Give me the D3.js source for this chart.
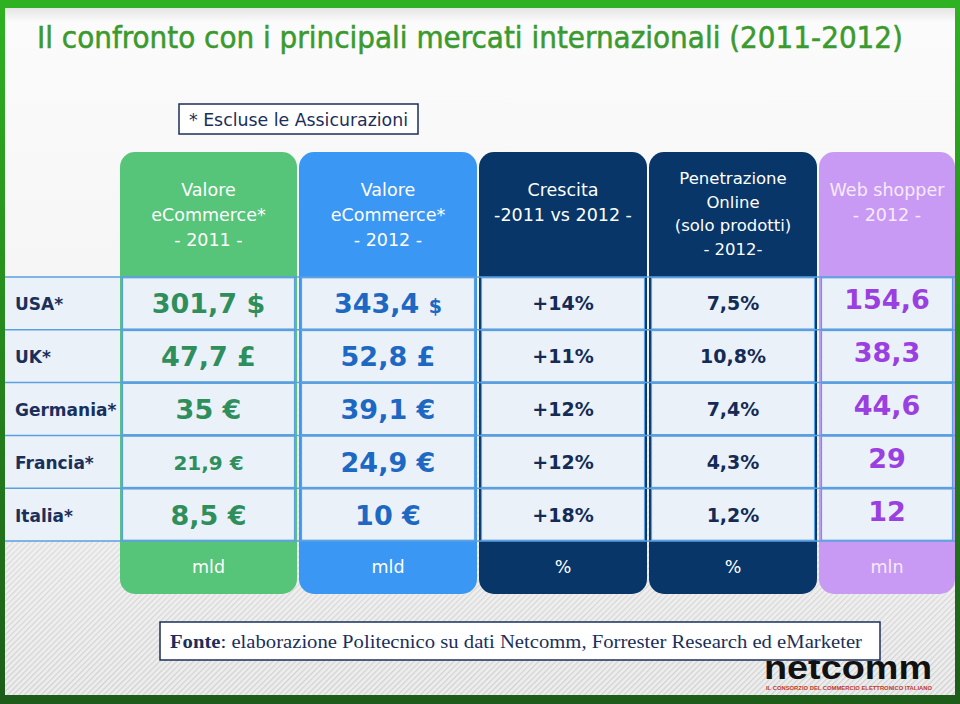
<!DOCTYPE html>
<html>
<head>
<meta charset="utf-8">
<script src="https://cdn.jsdelivr.net/npm/d3@7"></script>
<style>
  html, body { margin: 0; padding: 0; background: #fff; }
  svg { display: block; }
</style>
</head>
<body>
<svg id="chart" width="960" height="704"></svg>
<script>
// data
var countries = ["USA*", "UK*", "Germania*", "Francia*", "Italia*"];
var value2011 = [301.7, 47.7, 35, 21.9, 8.5];
var value2012 = [343.4, 52.8, 39.1, 24.9, 10];
var currency = ["$", "£", "€", "€", "€"];
var growth = [14, 11, 12, 12, 18];
var penetration = [7.5, 10.8, 7.4, 4.3, 1.2];
var webShoppers = [154.6, 38.3, 44.6, 29, 12];

var headers = [
    ["Valore", "eCommerce*", "- 2011 -"],
    ["Valore", "eCommerce*", "- 2012 -"],
    ["Crescita", "-2011 vs 2012 -"],
    ["Penetrazione", "Online", "(solo prodotti)", "- 2012-"],
    ["Web shopper", "- 2012 -"]
];
var units = ["mld", "mld", "%", "%", "mln"];

var title = "Il confronto con i principali mercati internazionali (2011-2012)";
var note = "* Escluse le Assicurazioni";
var sourceLabel = "Fonte";
var sourceText = ": elaborazione Politecnico su dati Netcomm, Forrester Research ed eMarketer";

var it = d3.formatLocale({ decimal: ",", thousands: ".", grouping: [3], currency: ["", " €"] });
var fmtVal = it.format(".1~f");
var fmtPct = it.format(".1f");

var svg = d3.select("#chart");
var defs = svg.append("defs");

// frame + background
var frameGrad = defs.append("linearGradient").attr("id", "frame").attr("x1", 0).attr("y1", 0).attr("x2", 0).attr("y2", 1);
frameGrad.append("stop").attr("offset", "0%").attr("stop-color", "#2fb222");
frameGrad.append("stop").attr("offset", "100%").attr("stop-color", "#1d5c19");

var bgGrad = defs.append("linearGradient").attr("id", "bg").attr("x1", 0).attr("y1", 0).attr("x2", 0).attr("y2", 1);
bgGrad.append("stop").attr("offset", "0%").attr("stop-color", "#e4e4e4");
bgGrad.append("stop").attr("offset", "2%").attr("stop-color", "#fbfbfb");
bgGrad.append("stop").attr("offset", "100%").attr("stop-color", "#ededed");

var hatch = defs.append("pattern").attr("id", "hatch")
    .attr("width", 4).attr("height", 4).attr("patternUnits", "userSpaceOnUse")
    .attr("patternTransform", "rotate(45)");
hatch.append("rect").attr("width", 1.2).attr("height", 4).attr("fill", "#cfcfcf");

var hatchFade = defs.append("linearGradient").attr("id", "hatchFade").attr("x1", 0).attr("y1", 0).attr("x2", 0).attr("y2", 1);
hatchFade.append("stop").attr("offset", "0%").attr("stop-color", "#fff").attr("stop-opacity", 0);
hatchFade.append("stop").attr("offset", "100%").attr("stop-color", "#fff").attr("stop-opacity", 1);
defs.append("mask").attr("id", "fadeMask")
    .append("rect").attr("x", 0).attr("y", 300).attr("width", 960).attr("height", 404).attr("fill", "url(#hatchFade)");

svg.append("rect").attr("width", 960).attr("height", 704).attr("fill", "url(#frame)");
svg.append("rect").attr("x", 5).attr("y", 8).attr("width", 950).attr("height", 687).attr("fill", "url(#bg)");
svg.append("rect").attr("x", 5).attr("y", 300).attr("width", 950).attr("height", 395)
    .attr("fill", "url(#hatch)").attr("mask", "url(#fadeMask)");

// title
svg.append("text")
    .attr("x", 37).attr("y", 48)
    .attr("textLength", 866).attr("lengthAdjust", "spacingAndGlyphs")
    .style("font-family", "'DejaVu Sans Condensed', 'DejaVu Sans', sans-serif")
    .style("font-size", "30px")
    .attr("fill", "#3a9a2e")
    .attr("stroke", "#3a9a2e").attr("stroke-width", 0.5)
    .text(title);

// note box
svg.append("rect").attr("x", 179).attr("y", 104).attr("width", 239).attr("height", 30)
    .attr("fill", "#fff").attr("stroke", "#1b2f5b").attr("stroke-width", 1.5);
svg.append("text")
    .attr("x", 189).attr("y", 126)
    .attr("textLength", 219).attr("lengthAdjust", "spacingAndGlyphs")
    .style("font-family", "'DejaVu Sans Condensed', 'DejaVu Sans', sans-serif")
    .style("font-size", "17px")
    .attr("fill", "#1b2f5b")
    .text(note);

// columns layout
var columns = [
    { x0: 120, x1: 297, fill: "#56c479", text: "#2f8f5c", head: "#ffffff" },
    { x0: 299, x1: 477, fill: "#3b97f4", text: "#1d68c2", head: "#ffffff" },
    { x0: 479, x1: 647, fill: "#083668", text: "#142b55", head: "#ffffff" },
    { x0: 649, x1: 817, fill: "#083668", text: "#142b55", head: "#ffffff" },
    { x0: 819, x1: 955, fill: "#c99af3", text: "#9a3fe0", head: "#f6eaff" }
];
var colTop = 152, colBottom = 594;

var y = d3.scaleBand().domain(countries).range([277, 541]).paddingInner(0);
var bw = y.bandwidth();

// label column background
svg.append("rect").attr("x", 5).attr("y", y.range()[0]).attr("width", 115).attr("height", y.range()[1] - y.range()[0])
    .attr("fill", "#eaf1f9");

// column shapes
svg.append("g").selectAll("rect")
    .data(columns)
    .join("rect")
    .attr("x", function (d) { return d.x0; })
    .attr("y", colTop)
    .attr("width", function (d) { return d.x1 - d.x0; })
    .attr("height", colBottom - colTop)
    .attr("rx", 15)
    .attr("fill", function (d) { return d.fill; });

// horizontal row lines across everything
var edges = countries.map(function (c) { return y(c); }).concat([y.range()[1]]);
svg.append("g").selectAll("line")
    .data(edges)
    .join("line")
    .attr("x1", 5).attr("x2", 955)
    .attr("y1", function (d) { return d; })
    .attr("y2", function (d) { return d; })
    .attr("stroke", "#5a9fe0").attr("stroke-width", 1.5);

// cells
columns.forEach(function (col) {
    svg.append("g").selectAll("rect")
        .data(countries)
        .join("rect")
        .attr("x", col.x0 + 2.5)
        .attr("y", function (d) { return y(d) + 0.75; })
        .attr("width", col.x1 - col.x0 - 5)
        .attr("height", bw - 1.5)
        .attr("fill", "#eaf1f9")
        .attr("stroke", "#5a9fe0")
        .attr("stroke-width", 1.2);
});

// headers
var headFont = "'DejaVu Sans', Verdana, sans-serif";
headers.forEach(function (lines, i) {
    var col = columns[i];
    var cx = (col.x0 + col.x1) / 2;
    var lh = lines.length > 3 ? 23.5 : 25;
    var startY = lines.length > 3 ? 184 : 196;
    svg.append("g").selectAll("text")
        .data(lines)
        .join("text")
        .attr("x", cx)
        .attr("y", function (d, k) { return startY + k * lh; })
        .attr("text-anchor", "middle")
        .style("font-family", headFont)
        .style("font-size", lines.length > 3 ? "16.5px" : "17.5px")
        .attr("fill", col.head)
        .text(function (d) { return d; });
});

// units row
svg.append("g").selectAll("text")
    .data(units)
    .join("text")
    .attr("x", function (d, i) { return (columns[i].x0 + columns[i].x1) / 2; })
    .attr("y", 573)
    .attr("text-anchor", "middle")
    .style("font-family", headFont)
    .style("font-size", "17.5px")
    .attr("fill", function (d, i) { return columns[i].head; })
    .text(function (d) { return d; });

// row labels
svg.append("g").selectAll("text")
    .data(countries)
    .join("text")
    .attr("x", 15)
    .attr("y", function (d) { return y(d) + bw / 2 + 7; })
    .style("font-family", headFont)
    .style("font-size", "17px")
    .style("font-weight", "bold")
    .attr("fill", "#1b2f5b")
    .text(function (d) { return d; });

function cx(i) { return (columns[i].x0 + columns[i].x1) / 2; }

// 2011 values
svg.append("g").selectAll("text")
    .data(countries)
    .join("text")
    .attr("x", cx(0))
    .attr("y", function (d, i) { return y(d) + bw / 2 + (i === 3 ? 8 : 10); })
    .attr("text-anchor", "middle")
    .style("font-family", headFont)
    .style("font-weight", "bold")
    .style("font-size", function (d, i) { return i === 3 ? "20px" : "27px"; })
    .attr("fill", columns[0].text)
    .text(function (d, i) { return fmtVal(value2011[i]) + " " + currency[i]; });

// 2012 values
svg.append("g").selectAll("text")
    .data(countries)
    .join("text")
    .attr("x", cx(1))
    .attr("y", function (d) { return y(d) + bw / 2 + 10; })
    .attr("text-anchor", "middle")
    .style("font-family", headFont)
    .style("font-weight", "bold")
    .style("font-size", "27px")
    .attr("fill", columns[1].text)
    .each(function (d, i) {
        var t = d3.select(this);
        t.append("tspan").text(fmtVal(value2012[i]) + " ");
        t.append("tspan").style("font-size", i === 0 ? "19px" : "27px").text(currency[i]);
    });

// growth
svg.append("g").selectAll("text")
    .data(countries)
    .join("text")
    .attr("x", cx(2))
    .attr("y", function (d) { return y(d) + bw / 2 + 7; })
    .attr("text-anchor", "middle")
    .style("font-family", headFont)
    .style("font-weight", "bold")
    .style("font-size", "19px")
    .attr("fill", columns[2].text)
    .text(function (d, i) { return "+" + growth[i] + "%"; });

// penetration
svg.append("g").selectAll("text")
    .data(countries)
    .join("text")
    .attr("x", cx(3))
    .attr("y", function (d) { return y(d) + bw / 2 + 7; })
    .attr("text-anchor", "middle")
    .style("font-family", headFont)
    .style("font-weight", "bold")
    .style("font-size", "19px")
    .attr("fill", columns[3].text)
    .text(function (d, i) { return fmtPct(penetration[i]) + "%"; });

// web shoppers
svg.append("g").selectAll("text")
    .data(countries)
    .join("text")
    .attr("x", cx(4))
    .attr("y", function (d) { return y(d) + bw / 2 + 6; })
    .attr("text-anchor", "middle")
    .style("font-family", headFont)
    .style("font-weight", "bold")
    .style("font-size", "27px")
    .attr("fill", columns[4].text)
    .text(function (d, i) { return fmtVal(webShoppers[i]); });

// netcomm logo, tucked under the source box
var logo = svg.append("g");
logo.append("text")
    .attr("x", 764).attr("y", 679)
    .attr("textLength", 168).attr("lengthAdjust", "spacingAndGlyphs")
    .style("font-family", "'Liberation Sans', Arial, sans-serif")
    .style("font-weight", "bold")
    .style("font-size", "33px")
    .attr("fill", "#111")
    .text("netcomm");
logo.append("text")
    .attr("x", 766).attr("y", 690)
    .attr("textLength", 166).attr("lengthAdjust", "spacingAndGlyphs")
    .style("font-family", "'Liberation Sans', Arial, sans-serif")
    .style("font-weight", "bold")
    .style("font-size", "5.5px")
    .attr("fill", "#c0392b")
    .text("IL CONSORZIO DEL COMMERCIO ELETTRONICO ITALIANO");

// source box
svg.append("rect").attr("x", 160).attr("y", 622).attr("width", 720).attr("height", 38)
    .attr("fill", "#fff").attr("stroke", "#1b2f5b").attr("stroke-width", 1.5);
var src = svg.append("text")
    .attr("x", 170).attr("y", 648)
    .attr("textLength", 692).attr("lengthAdjust", "spacingAndGlyphs")
    .style("font-family", "'Liberation Serif', 'Times New Roman', serif")
    .style("font-size", "19.5px")
    .attr("fill", "#1b2f5b");
src.append("tspan").style("font-weight", "bold").text(sourceLabel);
src.append("tspan").text(sourceText);
</script>
</body>
</html>
